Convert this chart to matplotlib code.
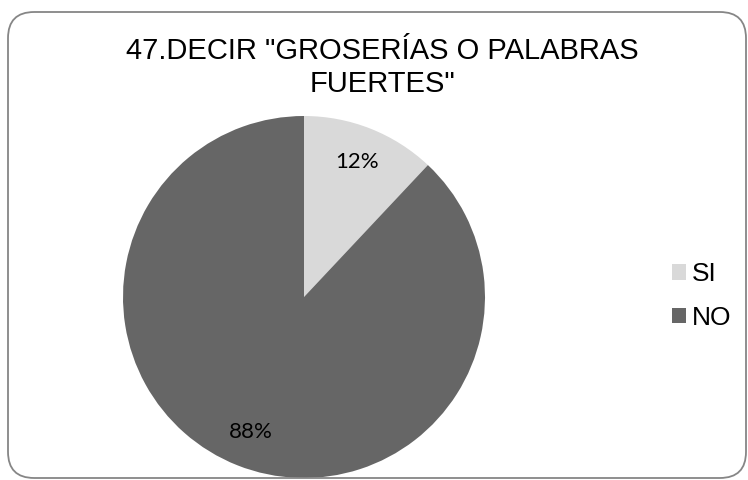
import matplotlib
matplotlib.use("Agg")
import matplotlib.pyplot as plt
from matplotlib.patches import FancyBboxPatch, Patch

categories = ["SI", "NO"]
values = [12, 88]
colors = ["#d9d9d9", "#666666"]
title_lines = ['47.DECIR "GROSERÍAS O PALABRAS', 'FUERTES"']

W, H = 748, 480
fig = plt.figure(figsize=(W / 100, H / 100), dpi=100)

# rounded border
border = FancyBboxPatch((8 / W, 2 / H), (W - 10) / W, (H - 14) / H,
                        boxstyle="round,pad=0,rounding_size=0.035",
                        transform=fig.transFigure, fill=False,
                        edgecolor="#868686", linewidth=1.3, mutation_aspect=W / H)
fig.patches.append(border)

cx, cy, r = 304, 297, 181
ax = fig.add_axes([(cx - r) / W, (H - cy - r) / H, 2 * r / W, 2 * r / H])
wedges, texts, autotexts = ax.pie(values, colors=colors, startangle=90, counterclock=False,
                                  autopct="%1.0f%%", pctdistance=0.8, radius=1,
                                  textprops=dict(fontsize=16, family=["Lato", "DejaVu Sans"], color="black"))
ax.set_xlim(-1, 1)
ax.set_ylim(-1, 1)
ax.set_aspect("equal")
ax.axis("off")

for line, base in zip(title_lines, [59, 92]):
    fig.text(382 / W, 1 - base / H, line, ha="center", va="baseline", fontsize=21,
             family=["Liberation Sans", "DejaVu Sans"])

handles = [Patch(facecolor=c, edgecolor="none") for c in colors]
fig.legend(handles, categories, loc="center left", bbox_to_anchor=(648 / W, 1 - 296 / H),
           frameon=False, prop=dict(family=["Liberation Sans", "DejaVu Sans"], size=19),
           handlelength=0.53, handleheight=0.53, handletextpad=0.25, labelspacing=0.75)

fig.savefig("out.png", dpi=100)
